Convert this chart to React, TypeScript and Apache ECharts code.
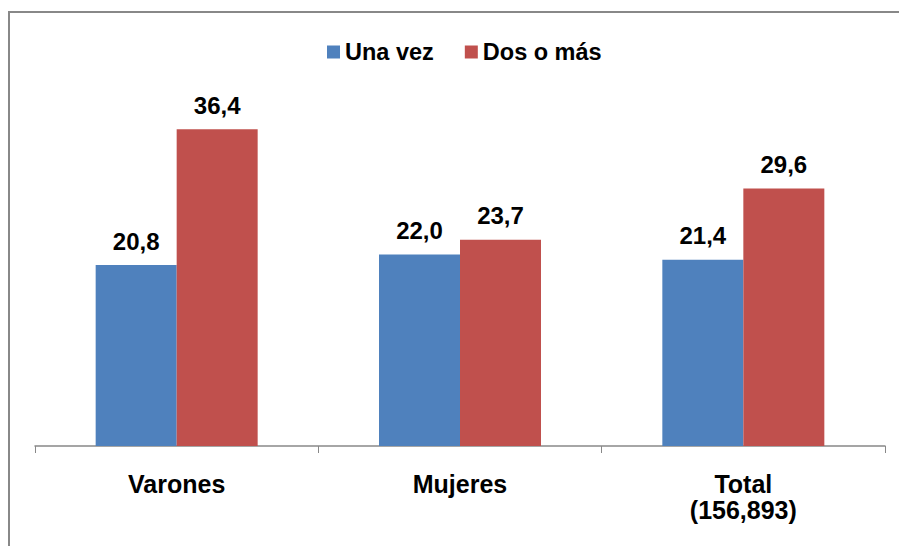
import React, { useEffect, useRef } from "react";
import * as echarts from "echarts";

const categories = ["Varones", "Mujeres", "Total\n(156,893)"];
const seriesNames = ["Una vez", "Dos o más"];
const unaVez = [20.8, 22.0, 21.4];
const dosOMas = [36.4, 23.7, 29.6];
const colors = ["#4F81BD", "#C0504D"];

const FONT = "'Liberation Sans', Arial, sans-serif";

const fmt = (v: number) => v.toFixed(1).replace(".", ",");

export default function App() {
  const ref = useRef<HTMLDivElement>(null);
  useEffect(() => {
    if (!ref.current) return;
    const chart = echarts.init(ref.current, null, { renderer: "svg" });
    const label = {
      show: true,
      position: "top" as const,
      distance: 12,
      color: "#000",
      fontFamily: FONT,
      fontWeight: "bold" as const,
      fontSize: 24,
      formatter: (p: any) => fmt(p.value),
    };
    chart.setOption({
      animation: false,
      backgroundColor: "#fff",
      graphic: [
        {
          type: "rect",
          shape: { x: 9, y: 12, width: 1000, height: 1000 },
          style: { fill: "none", stroke: "#888", lineWidth: 2 },
          silent: true,
        },
      ],
      legend: {
        left: 322,
        top: 35,
        itemWidth: 13,
        itemHeight: 13,
        itemGap: 31,
        icon: "rect",
        data: seriesNames,
        textStyle: {
          color: "#000",
          fontFamily: FONT,
          fontWeight: "bold",
          fontSize: 23.5,
        },
      },
      grid: { left: 35, right: 14, top: 98, bottom: 100 },
      xAxis: {
        type: "category",
        data: categories,
        axisLine: { lineStyle: { color: "#888", width: 1.5 } },
        axisTick: { show: true, length: 7, interval: 0, lineStyle: { color: "#888" } },
        axisLabel: {
          color: "#000",
          fontFamily: FONT,
          fontWeight: "bold",
          fontSize: 25,
          margin: 25,
          lineHeight: 26,
          interval: 0,
        },
      },
      yAxis: {
        type: "value",
        min: 0,
        max: 40,
        show: false,
        splitLine: { show: false },
      },
      series: [
        {
          name: seriesNames[0],
          type: "bar",
          data: unaVez,
          barWidth: 81,
          barGap: "0%",
          itemStyle: { color: colors[0] },
          label,
        },
        {
          name: seriesNames[1],
          type: "bar",
          data: dosOMas,
          barWidth: 81,
          barGap: "0%",
          itemStyle: { color: colors[1] },
          label,
        },
      ],
    });
    return () => chart.dispose();
  }, []);
  return (
    <div
      ref={ref}
      style={{ position: "fixed", left: 0, top: 0, width: 899, height: 546 }}
    />
  );
}
